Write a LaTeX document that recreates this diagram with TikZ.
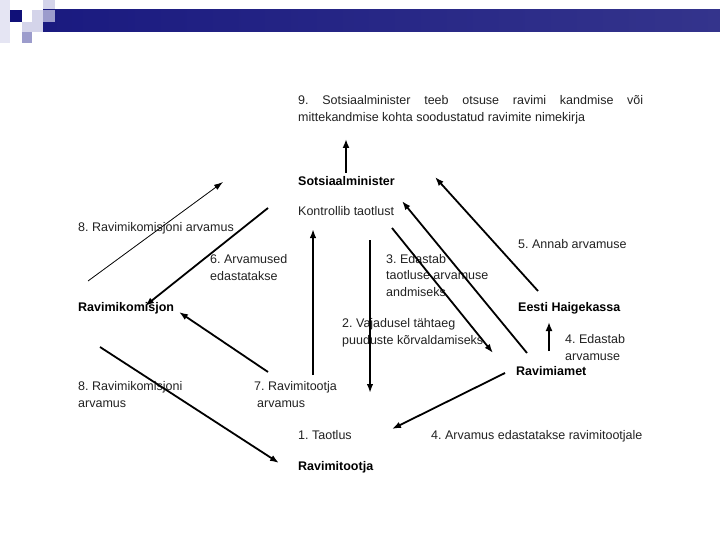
\documentclass[tikz,border=0pt]{standalone}
\usepackage{fontspec}
\setmainfont{Liberation Sans}
\usetikzlibrary{arrows.meta}
\frenchspacing

\definecolor{navy}{RGB}{16,16,120}
\definecolor{barleft}{RGB}{26,26,128}
\definecolor{barright}{RGB}{52,52,140}
\definecolor{lilac}{RGB}{212,212,234}
\definecolor{lilacmid}{RGB}{156,156,204}
\definecolor{inktext}{RGB}{34,34,34}

\begin{document}
\begin{tikzpicture}[x=1pt,y=-1pt,
    lbl/.style={anchor=base west,inner sep=0pt,align=left,
      font=\fontsize{12.5}{16.5}\selectfont,text=inktext},
    head/.style={lbl,font=\fontsize{12.5}{16.5}\selectfont\bfseries,text=black},
    flow/.style={line width=1.8pt,-{Latex[length=9pt,width=6.5pt]}},
    thinflow/.style={line width=0.8pt,-{Latex[length=9pt,width=6pt]}},
    bigflow/.style={line width=2.6pt,-{Latex[length=9pt,width=7pt]}}]

    % Frame
    \useasboundingbox[fill=white] (0,0) rectangle (720,540);

    % Logo squares and top bar
    \fill[lilac!60] (0,0) rectangle (10,43);
    \fill[navy] (10,10) rectangle (22,22);
    \fill[lilac] (32,10) rectangle (43,22);
    \fill[lilac] (22,22) rectangle (43,32);
    \fill[lilacmid] (22,32) rectangle (32,43);
    \fill[lilac] (43,0) rectangle (55,10);
    \shade[left color=barleft,right color=barright] (43,10) rectangle (720,32);
    \fill[lilacmid] (43,10) rectangle (55,22);

    % Actors
    \node[head] (minister) at (298,186) {Sotsiaalminister};
    \node[head] (komisjon) at (78,311) {Ravimikomisjon};
    \node[head] (haigekassa) at (518,311) {Eesti Haigekassa};
    \node[head] (amet) at (516,375) {Ravimiamet};
    \node[head] (tootja) at (298,470) {Ravimitootja};

    % Steps (multi-line labels sit on their last baseline)
    \node[lbl,text width=345pt,align=justify] (otsus) at (298,105)
      {9. Sotsiaalminister teeb otsuse ravimi kandmise või\linebreak
       mittekandmise kohta soodustatud ravimite nimekirja};
    \node[lbl] (kontroll) at (298,215) {Kontrollib taotlust};
    \node[lbl] (arv8a) at (78,232) {8. Ravimikomisjoni arvamus};
    \node[lbl] (annab) at (518,248) {5. Annab arvamuse};
    \node[lbl] (arv6) at (210,280) {6. Arvamused\\edastatakse};
    \node[lbl] (edastab3) at (386,296) {3. Edastab\\taotluse arvamuse\\andmiseks};
    \node[lbl] (vajadus) at (342,344) {2. Vajadusel tähtaeg\\puuduste kõrvaldamiseks};
    \node[lbl] (edastab4) at (565,360) {4. Edastab\\arvamuse};
    \node[lbl] (arv8b) at (78,407) {8. Ravimikomisjoni\\arvamus};
    \node[lbl] (arv7) at (254,407) {7. Ravimitootja\\\hspace{3pt}arvamus};
    \node[lbl] (taotlus) at (298,439) {1. Taotlus};
    \node[lbl] (arv4) at (431,439) {4. Arvamus edastatakse ravimitootjale};

    % Arrow ends
    \coordinate (k8s) at (88,281);   \coordinate (k8e) at (223,182);
    \coordinate (k6s) at (268,208);  \coordinate (k6e) at (145,306);
    \coordinate (m9s) at (346,173);  \coordinate (m9e) at (346,139);
    \coordinate (t7s) at (313,375);  \coordinate (t7e) at (313,229);
    \coordinate (m2s) at (370,240);  \coordinate (m2e) at (370,393);
    \coordinate (m3s) at (392,228);  \coordinate (m3e) at (493,353);
    \coordinate (a3s) at (527,353);  \coordinate (a3e) at (402,201);
    \coordinate (h5s) at (538,291);  \coordinate (h5e) at (435,177);
    \coordinate (a4s) at (549,351);  \coordinate (a4e) at (549,322);
    \coordinate (a1s) at (505,373);  \coordinate (a1e) at (392,429);
    \coordinate (t6s) at (268,372);  \coordinate (t6e) at (179,312);
    \coordinate (k1s) at (100,347);  \coordinate (k1e) at (279,463);

    % Connectors
    \draw[thinflow] (k8s) -- (k8e);
    \draw[flow] (k6s) -- (k6e);
    \draw[bigflow] (m9s) -- (m9e);
    \draw[flow] (t7s) -- (t7e);
    \draw[flow] (m2s) -- (m2e);
    \draw[flow] (m3s) -- (m3e);
    \draw[flow] (a3s) -- (a3e);
    \draw[flow] (h5s) -- (h5e);
    \draw[bigflow] (a4s) -- (a4e);
    \draw[flow] (a1s) -- (a1e);
    \draw[flow] (t6s) -- (t6e);
    \draw[flow] (k1s) -- (k1e);
\end{tikzpicture}
\end{document}
